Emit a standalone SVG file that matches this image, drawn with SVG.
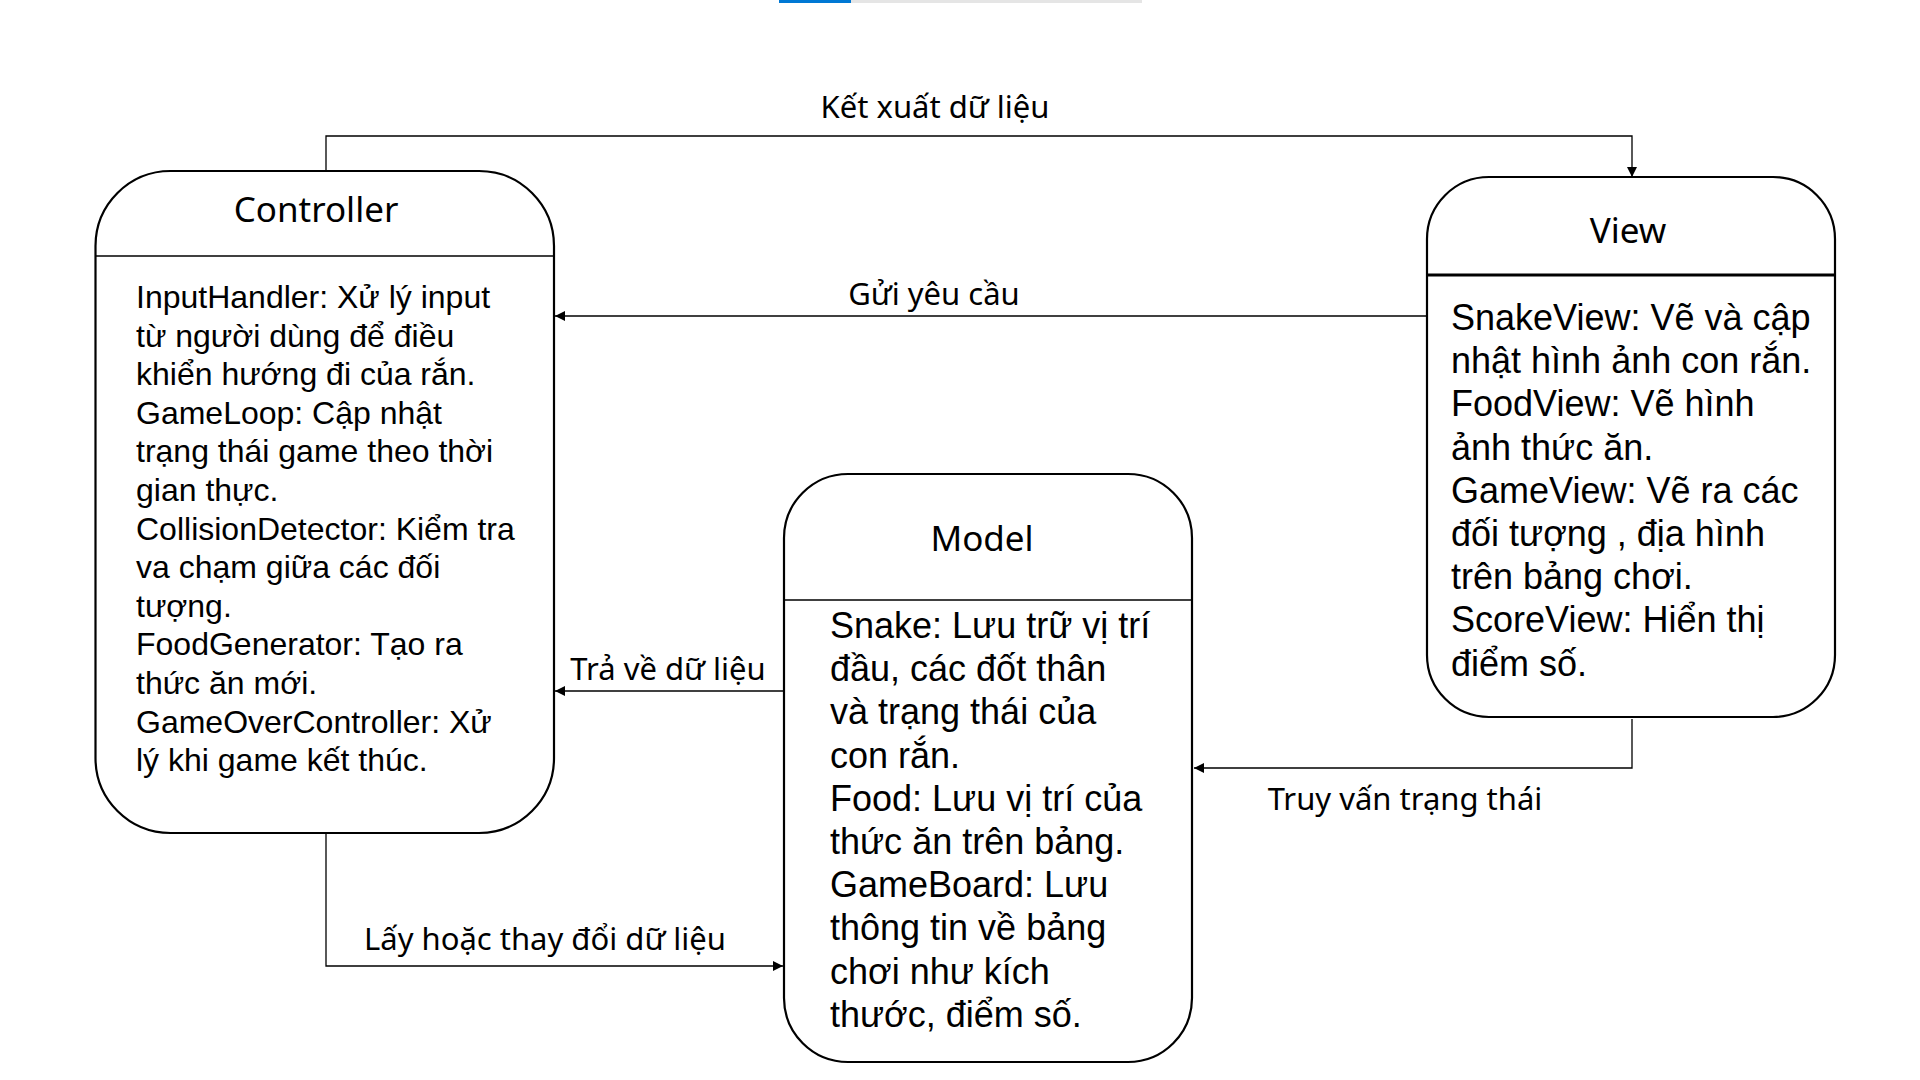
<svg xmlns="http://www.w3.org/2000/svg" width="1920" height="1080" viewBox="0 0 1920 1080">
<defs>
<marker id="arr" viewBox="0 0 10 10" refX="10" refY="5" markerWidth="11" markerHeight="10" markerUnits="userSpaceOnUse" orient="auto">
<path d="M0,0 L10,5 L0,10 Z" fill="#000"/>
</marker>
<style>
.box{fill:#fff;stroke:#000;stroke-width:2.2}
.div{stroke:#000;stroke-width:1.5}
.divb{stroke:#000;stroke-width:3}
.title{font-family:"Noto Sans","Open Sans",sans-serif;font-size:35px;fill:#000;text-anchor:middle}
.body{font-family:"Liberation Sans",Arial,sans-serif;fill:#000}
.c{font-size:32px}
.v{font-size:36px}
.lbl{font-family:"Noto Sans","Open Sans",sans-serif;font-size:31px;fill:#000;text-anchor:middle}
.con{fill:none;stroke:#000;stroke-width:1.3}
</style>
</defs>
<rect width="1920" height="1080" fill="#fff"/>
<rect x="779" y="0" width="72" height="3" fill="#0078d4"/>
<rect x="851" y="0" width="291" height="3" fill="#e5e5e5"/>

<g id="connectors">
<path class="con" d="M326,171 V136 H1632 V177" marker-end="url(#arr)"/>
<path class="con" d="M1427,316 H555" marker-end="url(#arr)"/>
<path class="con" d="M784,691 H555" marker-end="url(#arr)"/>
<path class="con" d="M1632,719 V768 H1194" marker-end="url(#arr)"/>
<path class="con" d="M326,833 V966 H783" marker-end="url(#arr)"/>
<text class="lbl" x="935" y="118">Kết xuất dữ liệu</text>
<text class="lbl" x="934" y="305">Gửi yêu cầu</text>
<text class="lbl" x="668" y="680">Trả về dữ liệu</text>
<text class="lbl" x="1405" y="810">Truy vấn trạng thái</text>
<text class="lbl" x="545" y="950">Lấy hoặc thay đổi dữ liệu</text>
</g>

<g id="controller">
<rect class="box" x="95.5" y="171" width="458.5" height="662" rx="75" ry="75"/>
<line class="div" x1="96" y1="256" x2="553" y2="256"/>
<text class="title" x="316" y="222">Controller</text>
<text class="body c" x="136">
<tspan x="136" y="308">InputHandler: Xử lý input</tspan>
<tspan x="136" dy="38.6">từ người dùng để điều</tspan>
<tspan x="136" dy="38.6">khiển hướng đi của rắn.</tspan>
<tspan x="136" dy="38.6">GameLoop: Cập nhật</tspan>
<tspan x="136" dy="38.6">trạng thái game theo thời</tspan>
<tspan x="136" dy="38.6">gian thực.</tspan>
<tspan x="136" dy="38.6">CollisionDetector: Kiểm tra</tspan>
<tspan x="136" dy="38.6">va chạm giữa các đối</tspan>
<tspan x="136" dy="38.6">tượng.</tspan>
<tspan x="136" dy="38.6">FoodGenerator: Tạo ra</tspan>
<tspan x="136" dy="38.6">thức ăn mới.</tspan>
<tspan x="136" dy="38.6">GameOverController: Xử</tspan>
<tspan x="136" dy="38.6">lý khi game kết thúc.</tspan>
</text>
</g>

<g id="view">
<rect class="box" x="1427" y="177" width="408" height="540" rx="62" ry="62"/>
<line class="divb" x1="1428" y1="275" x2="1834" y2="275"/>
<text class="title" x="1628" y="243">View</text>
<text class="body v" x="1451">
<tspan x="1451" y="330">SnakeView: Vẽ và cập</tspan>
<tspan x="1451" dy="43.2">nhật hình ảnh con rắn.</tspan>
<tspan x="1451" dy="43.2">FoodView: Vẽ hình</tspan>
<tspan x="1451" dy="43.2">ảnh thức ăn.</tspan>
<tspan x="1451" dy="43.2">GameView: Vẽ ra các</tspan>
<tspan x="1451" dy="43.2">đối tượng , địa hình</tspan>
<tspan x="1451" dy="43.2">trên bảng chơi.</tspan>
<tspan x="1451" dy="43.2">ScoreView: Hiển thị</tspan>
<tspan x="1451" dy="43.2">điểm số.</tspan>
</text>
</g>

<g id="model">
<rect class="box" x="784" y="474" width="408" height="588" rx="64" ry="64"/>
<line class="div" x1="785" y1="600" x2="1191" y2="600"/>
<text class="title" x="982" y="551">Model</text>
<text class="body v" x="830">
<tspan x="830" y="638">Snake: Lưu trữ vị trí</tspan>
<tspan x="830" dy="43.2">đầu, các đốt thân</tspan>
<tspan x="830" dy="43.2">và trạng thái của</tspan>
<tspan x="830" dy="43.2">con rắn.</tspan>
<tspan x="830" dy="43.2">Food: Lưu vị trí của</tspan>
<tspan x="830" dy="43.2">thức ăn trên bảng.</tspan>
<tspan x="830" dy="43.2">GameBoard: Lưu</tspan>
<tspan x="830" dy="43.2">thông tin về bảng</tspan>
<tspan x="830" dy="43.2">chơi như kích</tspan>
<tspan x="830" dy="43.2">thước, điểm số.</tspan>
</text>
</g>
</svg>
